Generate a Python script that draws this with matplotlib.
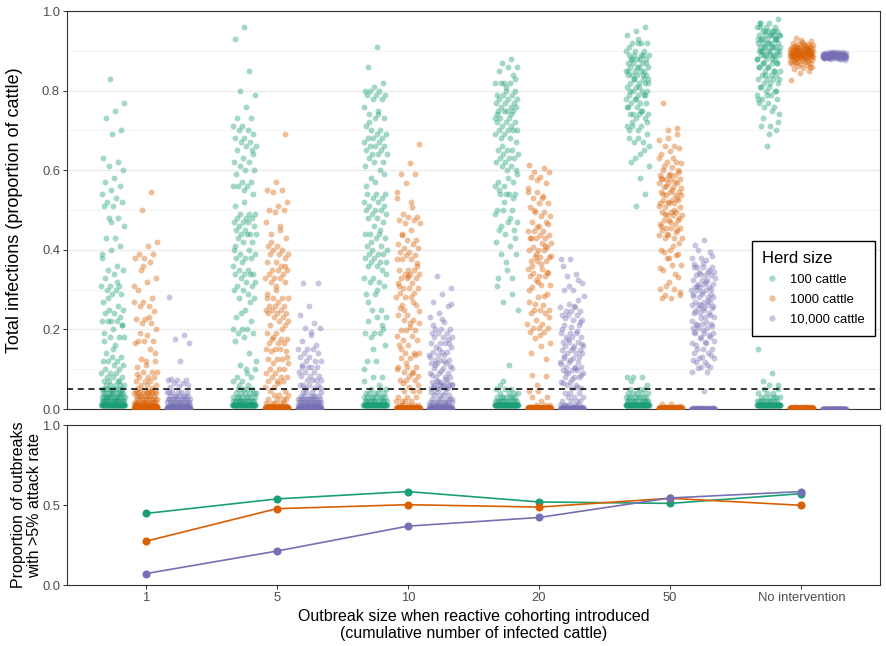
import numpy as np
import matplotlib
matplotlib.use("Agg")
import matplotlib.pyplot as plt
from matplotlib.lines import Line2D

plt.rcParams["font.family"] = ["Liberation Sans", "DejaVu Sans"]

CATEGORIES = ["1", "5", "10", "20", "50", "No intervention"]
HERDS = ["100 cattle", "1000 cattle", "10,000 cattle"]
COLOURS = ["#1B9E77", "#D95F02", "#7570B3"]

# proportion of outbreaks with >5% attack rate
PROP_100 = [0.447, 0.538, 0.584, 0.519, 0.510, 0.571]
PROP_1000 = [0.273, 0.477, 0.502, 0.487, 0.542, 0.498]
PROP_10000 = [0.071, 0.212, 0.368, 0.422, 0.544, 0.584]

# total infections (% of herd) for the outbreaks above the 5% line, one string per category
UPPER_100 = [
    "83 77 75 73 70 69 63 62 61 60 58 57 56 55 54 53 52 52 51 51 48 48 46 43 43 41 40 38 36 35 35 34 33 31 31 31 30 30 29 29 27 26 25 25 24 24 23 22 22 22 22 21 20 19 18 18 18 16 14 13 13 12 12 12 11 11 10 10 9 9 9 8 8 8 7 7 7 6 6 6 6 47 39 32 28 21 15 17 7 6",
    "96 93 85 80 79 76 73 73 71 71 70 70 69 68 68 67 67 66 66 65 65 63 62 62 61 60 60 59 57 57 56 56 56 54 52 51 49 49 49 48 48 48 47 47 47 46 46 45 45 44 44 44 44 43 42 42 40 40 39 39 38 38 38 37 36 35 35 34 34 34 34 33 32 32 31 31 30 30 29 28 28 25 23 22 20 20 20 19 19 18 17 14 11 10 10 8 8 7 7 6 6 64 55 41 27 24 12 9",
    "91 86 82 81 80 80 80 79 79 79 78 78 76 74 74 73 73 71 70 70 69 69 68 68 68 67 67 66 66 66 65 65 64 64 64 63 62 62 61 60 58 54 54 54 53 53 52 52 51 51 50 50 50 49 49 48 48 47 46 44 44 44 43 43 41 41 40 40 39 39 39 38 38 37 37 37 36 36 35 33 33 32 32 31 29 29 25 25 23 23 22 20 19 19 19 18 16 12 12 8 8 7 75 72 59 57 56 45 42 34 30 27 21 15 10 6",
    "88 87 86 86 85 84 82 82 82 82 80 80 79 79 79 78 78 78 77 77 77 76 76 76 75 75 75 75 73 73 73 72 72 72 71 71 70 70 70 70 69 69 68 68 67 65 65 65 64 64 63 63 63 62 62 61 61 60 60 57 57 56 56 54 54 54 54 50 50 50 47 47 45 45 44 42 41 39 39 35 33 33 27 25 11 6 83 81 74 74 66 59 58 55 53 52 49 48 46 43 37 31 29 7",
    "96 95 94 92 92 92 92 89 89 89 89 88 88 88 88 87 87 87 86 86 86 85 85 85 85 84 84 84 84 83 83 83 82 82 82 81 81 80 80 80 79 79 79 78 78 77 77 77 76 76 75 74 74 74 74 73 73 71 71 71 69 68 68 67 67 66 64 62 54 51 8 8 8 6 93 91 90 90 90 89 88 87 86 85 84 83 82 81 80 79 78 76 75 72 72 70 70 65 63 61 58 7",
    "98 97 97 96 96 96 95 95 95 95 94 94 94 94 94 93 93 93 93 92 92 92 92 91 91 91 91 91 90 90 90 90 89 89 89 89 89 88 88 88 87 87 87 86 86 85 85 85 84 84 84 83 83 83 82 82 81 81 80 80 79 79 78 78 77 77 76 76 74 71 71 70 66 15 9 7 6 6 96 95 95 94 94 93 93 92 92 91 91 90 90 90 89 89 88 88 87 87 86 86 85 84 83 82 81 80 79 78 75 73 72 69 97 93",
]
UPPER_1000 = [
    "54.5 50 42 41 39 39 38 38 37 35 33 32 30 28 27 27 26 26 24.5 22.5 22.5 21.5 21.5 20 18.5 17 17 17 16.5 15 12.5 12 12 10.5 9.4 9.4 9.4 8.1 8.1 8.1 7 7 7 6 6 6 5.2 5.2 36 31 23 19 14 11 8.8",
    "69 57 55 55 54.5 52 51 50 50 49.5 47 45 44 43 41 41 40 40 39 39 39 38 37 37 36 35 35 35 34 34 33 33 33 32 32 31 28 28 28 28 27 26 26 26 25 25 25 24 24 24 23 23 22 22 21 21 19 19 17.5 17.5 17.5 16.5 16.5 16.5 15 15 15 14.5 14.5 12.5 12.5 12.5 11.5 11.5 10 10 10 9 9 8 8 8 7 7 7 5.6 5.6 46 42 36 30 29 20 18 13 6.5",
    "66.7 61.7 59 59 56.7 54.5 50.8 49 48.3 48.3 47.5 47.5 46.8 46.8 45 43.6 42.5 42.5 41.5 41.5 40.5 40.5 39.5 39.5 38.7 38.7 37.6 37.6 37.6 36.6 35 35 35 34 34 34 32.8 32.8 32.8 31.6 31.6 30.3 30.3 30.3 29.2 29.2 28.2 28.2 28.2 26.1 26.1 23.6 23.6 22.4 22.4 21.5 21.5 19.8 19.8 19.8 18.3 18.3 17.3 17.3 16.2 16.2 14 14 14 12.7 12.7 10.6 10.6 10.6 9.4 9.4 8.3 8.3 7.3 7.3 7.3 53 52 44 36 33.5 31 27 25 24.5 20.5 15 13.5 11.5 10 9 6.5 6 5.5 25.5",
    "61.3 60.5 59.6 59.6 58.4 58.4 56.9 54.4 54.4 52.9 52.9 51.8 51.8 50.8 49.6 49.6 48.5 48.5 47.1 47.1 45.8 44.8 44.8 44.8 43.7 43.7 42.9 42.9 42.9 41.8 41.8 40.8 40.8 40 40 40 38.1 38.1 38.1 37.3 37.3 37.3 35.3 35.3 34.1 34.1 33.4 33.4 33.4 32.4 31.2 31.2 30.7 29 28.2 27 26.1 24.9 24.9 24.9 24 24 22.4 21.4 21.4 20.3 20.3 20.3 19.4 19.4 17.8 16.5 15.8 8.5 8.3 57.5 55.5 53.5 50 46.5 46 43 41 39 38.5 36.5 36 34.5 32 30 28.5 26.5 23 18.5 14 12.5 6",
    "77 70.5 70 67.6 66.1 66.1 65.5 64.7 64.1 62.1 62.1 61.7 60.9 60 60 58.8 58.8 58.8 57.7 57.7 57.7 57.7 56.7 56.7 56.7 55.9 55.9 54.6 54.6 54.6 53.8 53.8 53.8 52.5 52.5 52.5 51.7 51.7 51.7 50.8 50.8 49.6 49.6 49.6 48.7 48.7 48.7 47.5 47.5 47.5 46.6 46.6 45.6 45.6 45.6 45 45 43.7 43.7 42.9 42.9 41.8 40 40 38.7 37.9 36.2 36.2 34.9 33.1 32 30.1 30.1 28.6 28.6 27.8 27.8 69 68 63 63 61 59.5 59 58 57 56 55.5 55 54 53 52 51 50 49 48 47 46 44.5 44 43 41 39.5 39 38 35.5 34 31 29.5",
    "93.1 92.5 92.3 92 91.8 91.7 91.5 91.4 91.3 91.2 91.1 91 91 90.9 90.8 90.8 90.7 90.6 90.6 90.5 90.5 90.4 90.3 90.3 90.2 90.1 90.1 90 90 89.9 89.9 89.8 89.8 89.7 89.7 89.6 89.6 89.5 89.5 89.4 89.4 89.3 89.3 89.2 89.2 89.1 89.1 89 89 89 88.9 88.9 88.8 88.8 88.7 88.7 88.6 88.6 88.5 88.5 88.4 88.4 88.3 88.3 88.2 88.1 88 88 87.9 87.8 87.7 87.6 87.5 87.4 87.3 87.1 87 86.9 86.8 86.6 86.4 86.2 86 85.7 85.4 84.8 84.4 82.7 89.8 90.2 89.5 89 88.8 90.6 89.3 88.6 91.6 87.2 85.9 92.8",
]
UPPER_10000 = [
    "28.2 18.6 17.5 16.5 12 7.5 7.3 7.3 7.2 6.6 6.5 6 5.8 5.5",
    "31.6 31.6 26 23.6 21.7 20.3 20.3 19.4 17 16 15 15 15 14 14 13 13 12 12 12 10.5 10.5 10.5 10.5 9.4 9.4 9.4 8.3 8.3 8.3 7.3 7.3 7.3 7.3 6 6 6 6 5.2 5.2 5.2 18.5 11",
    "33.4 30.5 28.9 27 25.9 24 23.2 21.9 20 20 20 19 19 19 18 18 18 16.7 16.7 16.7 16.7 15.7 15.7 14.4 14.4 14.4 13.6 13.6 13.6 12.3 12.3 12.3 11.5 11.5 11.5 10.2 10.2 10.2 9.1 9.1 9.1 8.1 8.1 8.1 6.9 6.9 6.9 6.9 6 6 6 6 6 5.4 5.4 5.4 26.5 22.5 21 17.5 15 13 12 11 10.8 9.6 8.6 7.6 7 6.4 5.8 5.6 5.2 5.1",
    "37.8 37.6 34 33.3 31.7 29.9 29.9 27.5 26.5 25.7 25.7 24.5 24.5 24.5 23.6 23.6 23.6 22.4 22.4 21.1 21.1 19 19 19 18.2 18.2 18.2 16.9 16.9 16.9 15.8 15.8 15.8 14.8 14.8 14.8 14 14 14 12.7 12.7 11.9 11.9 11.9 10.6 10.6 10.6 9.8 9.8 9.8 9 9 8.1 8.1 8.1 6.9 6.9 6 6 5.2 5.2 36 32.5 31 28.5 26 22.8 21.8 20.5 20 19.5 17.5 16.3 15.3 13.4 13 12.2 11.3 10.2 9.4 8.5 7.5 6.5 5.6",
    "42.5 41.1 39.5 37.9 37.9 37.4 35.8 35.8 35.8 35.8 34.5 34.5 34.5 33.7 33.7 33.7 32.4 32.4 32.4 31.4 31.4 31.4 30.7 30.7 30.7 29.9 29.9 29.9 28.9 28.9 28.9 28.1 28.1 28.1 27 27 27 26.1 26.1 26.1 25.5 25.5 25.5 24 24 24 23.2 23.2 21.4 21.4 21.4 20.3 20.3 20.3 19 19 19 18.2 18.2 16.5 16.5 15.2 15.2 15.2 14 14 12.7 12.7 11.9 11.9 10.6 10.6 9.4 9.4 40 38.5 36.8 36.5 35 34 33 32 31 30.2 29.5 28.5 27.5 26.5 25.8 25 24.5 23.5 22.8 22.2 21.8 21 20.8 19.8 19.3 18.7 17.8 17.2 16.8 16 13.5 13 12.2 11 10.2",
    "89.8 89.7 89.6 89.6 89.5 89.5 89.4 89.4 89.4 89.3 89.3 89.3 89.2 89.2 89.2 89.2 89.1 89.1 89.1 89.1 89.0 89.0 89.0 89.0 89.0 88.9 88.9 88.9 88.9 88.9 88.9 88.8 88.8 88.8 88.8 88.8 88.8 88.7 88.7 88.7 88.7 88.7 88.7 88.6 88.6 88.6 88.6 88.6 88.5 88.5 88.5 88.5 88.4 88.4 88.4 88.3 88.3 88.2 88.2 88.1 88.0 87.9 87.8 89.5 89.2 88.9 88.6 88.3 89.0 88.8 88.7 89.1 88.4 88.9 88.6 89.3 88.2 88.8 88.5 89.0 88.7 88.9 88.6 88.8 89.1 88.4 88.7 89.2 88.5 88.9 88.3 88.8 89.0 88.6 88.7 89.4 88.1 88.9 88.5 88.8 89.6 88.2 88.7 89.1 88.4 88.9 88.6 88.0 89.3 88.7 88.8 88.5 89.0 88.6 88.9 88.7 88.8",
]

# small outbreaks (<=5%): (total infections %, number of outbreaks)
LOW_100 = [
    [(1, 60), (2, 18), (3, 14), (4, 10), (5, 8)],
    [(1, 60), (2, 14), (3, 8), (4, 6), (5, 4)],
    [(1, 55), (2, 12), (3, 8), (4, 5), (5, 3)],
    [(1, 70), (2, 12), (3, 7), (4, 4), (5, 3)],
    [(1, 70), (2, 12), (3, 8), (4, 5), (5, 3)],
    [(1, 65), (2, 10), (3, 6), (4, 3), (5, 2)],
]
LOW_1000 = [
    [(0.2, 50), (0.4, 30), (0.7, 20), (1.2, 10), (1.8, 8), (2.5, 8), (3.2, 7), (3.9, 6), (4.6, 6)],
    [(0.2, 60), (0.4, 20), (0.8, 10), (1.5, 5), (2.5, 4), (3.5, 3), (4.5, 2)],
    [(0.2, 70), (0.4, 15), (1, 5), (2, 4), (3, 3), (4.5, 3)],
    [(0.2, 80), (0.4, 15), (1, 3), (2, 1), (3, 2), (4.5, 2)],
    [(0.2, 78), (0.4, 10), (0.8, 1), (1.2, 2)],
    [(0.2, 90), (0.4, 10)],
]
LOW_10000 = [
    [(0.05, 80), (0.2, 40), (0.5, 20), (1, 14), (1.7, 10), (2.5, 9), (3.3, 7), (4.2, 6)],
    [(0.05, 60), (0.2, 30), (0.5, 20), (1, 15), (1.7, 12), (2.5, 10), (3.3, 6), (4.2, 4)],
    [(0.05, 55), (0.2, 25), (0.5, 15), (1, 10), (1.8, 8), (2.6, 6), (3.4, 4), (4.3, 3)],
    [(0.05, 70), (0.2, 20), (0.5, 10), (1, 6), (2, 4), (3, 3), (4, 3)],
    [(0.05, 80), (0.2, 10), (4.4, 1)],
    [(0.05, 83)],
]

UPPER = [UPPER_100, UPPER_1000, UPPER_10000]
LOW = [LOW_100, LOW_1000, LOW_10000]
PROPS = [PROP_100, PROP_1000, PROP_10000]

DODGE = [-0.25, 0.0, 0.25]
JIT = 0.09
GREY = "#4D4D4D"
TICK_FS = 9.4


def group_values(upper, low):
    hi = np.array(upper.split(), dtype=float)
    lo = np.concatenate([np.repeat(v, n) for v, n in low])
    return np.concatenate([hi, lo]) / 100.0


fig = plt.figure(figsize=(8.87, 6.46), dpi=100)
ax1 = fig.add_axes([67 / 887, 1 - 409 / 646, 813 / 887, 398 / 646])
ax2 = fig.add_axes([67 / 887, 1 - 585 / 646, 813 / 887, 160 / 646])

xs = np.arange(1, len(CATEGORIES) + 1)

# jittered outbreak sizes; deterministic golden-ratio jitter
for h in range(3):
    for c in range(len(CATEGORIES)):
        y = group_values(UPPER[h][c], LOW[h][c])
        frac = (np.arange(len(y)) * 0.6180339887 + 0.37 * (h + 1) + 0.11 * c) % 1.0
        x = xs[c] + DODGE[h] + (frac - 0.5) * 2 * JIT
        ax1.scatter(x, y, s=18, color=COLOURS[h], alpha=0.4, linewidths=0, zorder=3)

ax1.axhline(0.05, color="black", lw=1.1, ls=(0, (4, 3)), zorder=4)

for h in range(3):
    ax2.plot(xs, PROPS[h], color=COLOURS[h], lw=1.2, marker="o", ms=4.8, zorder=3 + h)

for ax in (ax1, ax2):
    ax.set_xlim(0.4, 6.6)
    ax.set_ylim(0, 1)
    for sp in ax.spines.values():
        sp.set_color("#333333")
        sp.set_linewidth(0.8)
    ax.tick_params(axis="y", colors="#333333", labelcolor=GREY, labelsize=TICK_FS,
                   length=3, width=0.7, pad=2)

ax1.set_yticks([0.0, 0.2, 0.4, 0.6, 0.8, 1.0])
ax1.set_yticklabels(["0.0", "0.2", "0.4", "0.6", "0.8", "1.0"])
ax1.set_yticks([0.1, 0.3, 0.5, 0.7, 0.9], minor=True)
ax1.tick_params(axis="y", which="minor", length=0)
ax1.grid(axis="y", which="major", color="#EBEBEB", lw=1.0, zorder=0)
ax1.grid(axis="y", which="minor", color="#F2F2F2", lw=0.6, zorder=0)
ax1.set_axisbelow(True)
ax1.set_xticks([])
ax1.set_ylabel("Total infections (proportion of cattle)", fontsize=13)
ax1.yaxis.set_label_coords(-0.054, 0.5)

ax2.set_yticks([0.0, 0.5, 1.0])
ax2.set_yticklabels(["0.0", "0.5", "1.0"])
ax2.set_xticks(xs)
ax2.set_xticklabels(CATEGORIES)
ax2.tick_params(axis="x", colors="#333333", labelcolor=GREY, labelsize=TICK_FS,
                length=3, width=0.7, pad=2)
ax2.set_ylabel("Proportion of outbreaks\nwith >5% attack rate", fontsize=11.5,
               linespacing=1.05)
ax2.yaxis.set_label_coords(-0.031, 0.5)
ax2.set_xlabel("Outbreak size when reactive cohorting introduced\n"
               "(cumulative number of infected cattle)", fontsize=11.5,
               linespacing=1.1, labelpad=4)

handles = [Line2D([], [], ls="", marker="o", ms=4.5, color=COLOURS[h],
                  alpha=0.4, markeredgewidth=0) for h in range(3)]
leg = ax1.legend(handles, HERDS, title="Herd size", loc="upper right",
                 bbox_to_anchor=(0.9938, 0.422), borderaxespad=0,
                 fontsize=9.4, title_fontsize=12, fancybox=False,
                 framealpha=1, edgecolor="black", borderpad=0.75,
                 handletextpad=0.6, labelspacing=0.6, handlelength=1.6)
leg._legend_box.align = "left"
leg.get_frame().set_linewidth(1.0)

fig.savefig("out.png", dpi=100, facecolor="white")
